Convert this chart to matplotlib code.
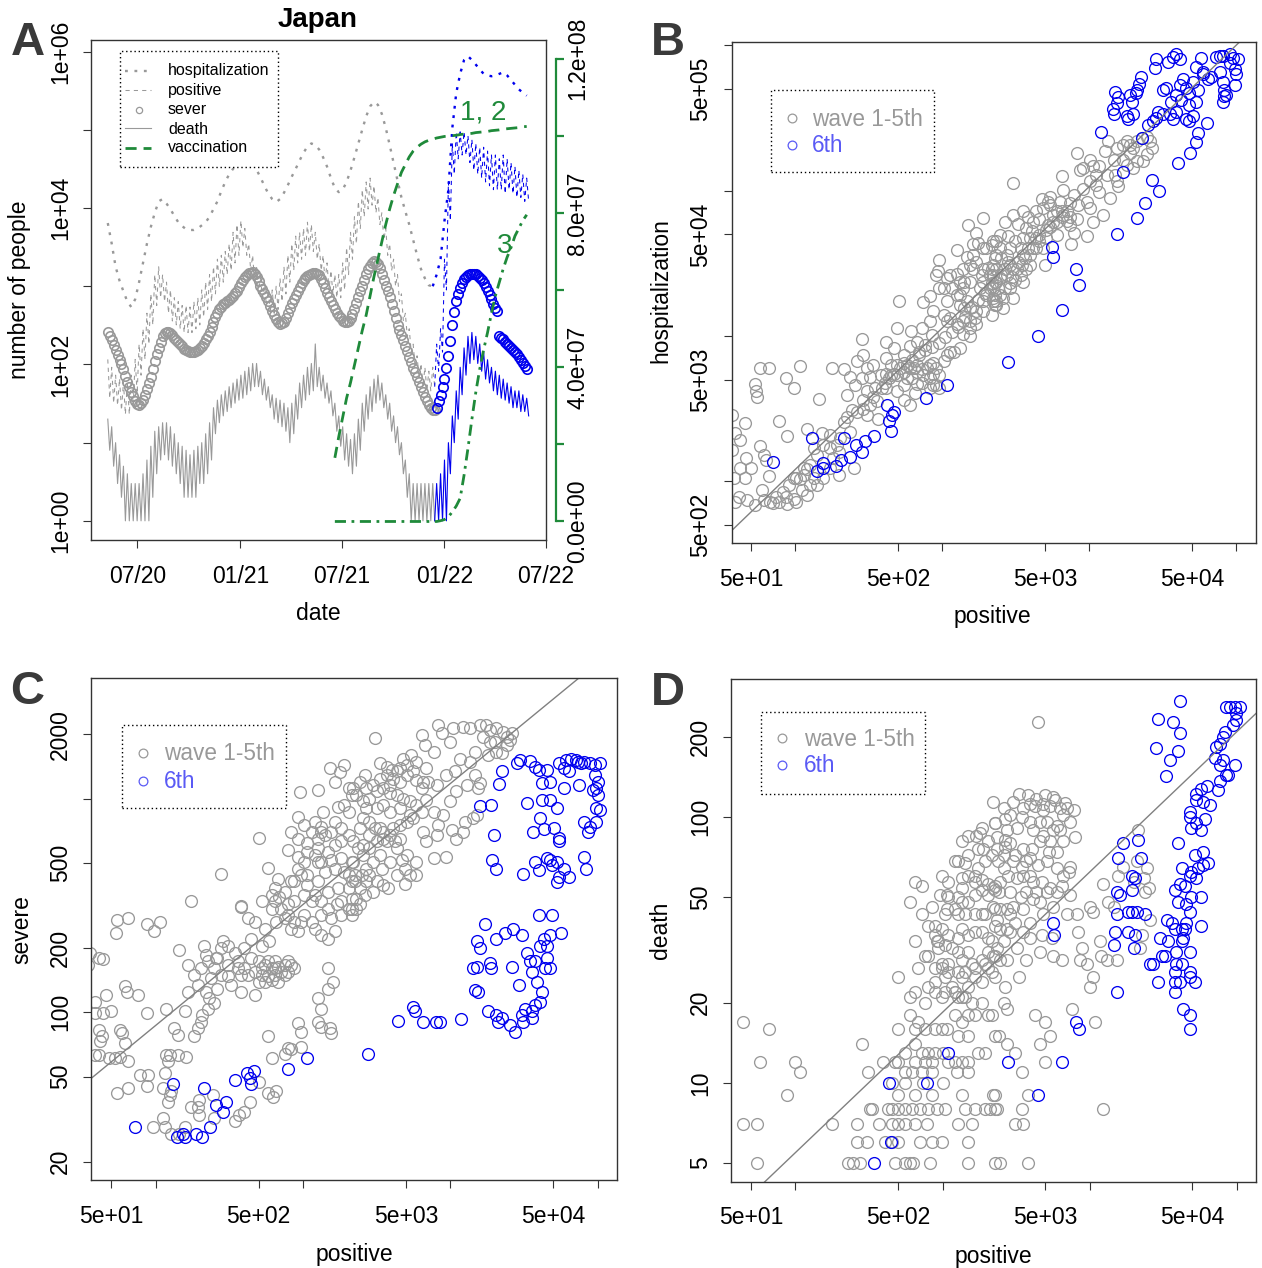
import numpy as np
import pandas as pd
import matplotlib
matplotlib.use("Agg")
import matplotlib.pyplot as plt
from matplotlib.lines import Line2D
from matplotlib.patches import Rectangle
from matplotlib.ticker import FixedLocator, FixedFormatter, NullLocator

plt.rcParams["font.family"] = ["Liberation Sans", "DejaVu Sans"]

# ------------------------------------------------------------------ data
# Panel A: weekly series for Japan, first week starting 2020-05-09
week_start = "2020-05-09"
wave6_first_week = 83          # weeks before this index belong to waves 1-5
vaccine_first_week = 58        # vaccination curves start at this week

hospitalization = [6440, 3520, 1780, 1180, 860, 637, 543, 683, 1130, 1990,
                   3500, 5750, 8700, 12200, 13060, 11420, 9710, 7930, 6600, 5880,
                   5370, 5250, 5250, 5490, 6020, 6600, 7750, 9740, 12200, 16500,
                   21600, 27100, 31800, 35600, 39000, 42600, 43600, 39000, 31000, 24700,
                   19300, 15300, 13050, 11930, 13050, 15700, 19700, 25300, 31800, 40700,
                   51100, 61300, 67100, 64200, 56000, 44600, 34000, 24200, 18000, 16000,
                   17200, 21600, 30300, 44600, 67100, 101000, 149000, 200000, 228000, 209000,
                   160000, 106000, 64200, 38000, 22600, 13700, 9100, 6160, 3920, 2500,
                   1660, 1260, 1030, 1000, 1410, 2230, 6900, 17200, 106000, 295000,
                   521000, 783000, 877000, 783000, 684000, 596000, 521000, 498000, 486000, 498000,
                   521000, 545000, 498000, 434000, 378000, 330000, 300000, 274000]

# severe cases read at the start of each week and half a week later
severe = [257, 204, 151, 115, 87, 60, 44, 34, 30, 35,
          48, 69, 110, 162, 229, 263, 251, 219, 195, 170,
          151, 145, 145, 155, 174, 209, 257, 347, 457, 550,
          617, 676, 759, 871, 1100, 1320, 1480, 1510, 1320, 1020,
          813, 646, 479, 380, 331, 347, 457, 603, 776, 977,
          1200, 1350, 1445, 1480, 1380, 1100, 813, 646, 513, 417,
          363, 347, 389, 513, 724, 1020, 1445, 1820, 2090, 1950,
          1445, 1020, 724, 479, 324, 240, 174, 126, 91, 69,
          51, 38, 30, 26, 28, 41, 65, 129, 324, 646,
          955, 1230, 1410, 1445, 1445, 1290, 1100, 871, 692, 525,
          229, 209, 182, 162, 145, 126, 105, 87]
severe_midweek = [230, 178, 132, 100, 72, 51, 39, 31, 32, 41,
                  58, 88, 135, 195, 250, 258, 235, 206, 182, 160,
                  148, 145, 150, 163, 190, 232, 300, 400, 505, 585,
                  645, 715, 810, 980, 1210, 1400, 1500, 1430, 1160, 910,
                  725, 555, 425, 352, 337, 398, 525, 685, 870, 1090,
                  1280, 1400, 1465, 1435, 1240, 950, 725, 575, 460, 388,
                  352, 365, 445, 610, 860, 1210, 1640, 1960, 2050, 1700,
                  1210, 860, 590, 395, 280, 205, 148, 107, 79, 59,
                  44, 34, 28, 26, 34, 51, 90, 200, 465, 795,
                  1090, 1330, 1435, 1450, 1370, 1200, 980, 775, 600, 480,
                  219, 195, 172, 153, 135, 115, 96]

# weekly high / low of the daily positives and deaths (weekday cycle)
positive_high = [116, 92, 73, 66, 59, 59, 73, 116, 182, 286,
                 452, 800, 1410, 1780, 1410, 1130, 898, 714, 637, 568,
                 568, 543, 637, 714, 898, 1130, 1410, 1780, 2220, 2490,
                 2790, 3500, 4900, 6170, 6910, 5500, 3500, 2490, 1780, 1410,
                 1130, 898, 898, 1000, 1260, 1780, 2490, 3500, 4380, 4900,
                 5500, 6600, 6170, 4900, 3500, 2490, 1990, 1590, 1410, 1410,
                 1990, 3130, 4900, 7750, 12200, 17200, 21600, 24200, 19300, 13700,
                 8700, 5500, 3500, 2220, 1410, 800, 452, 286, 182, 129,
                 103, 92, 82, 92, 182, 286, 2220, 21600, 67100, 94500,
                 94500, 94500, 84300, 75200, 67100, 60000, 60000, 53600, 47800, 47800,
                 42700, 47800, 42700, 38200, 34100, 30400, 27100, 24200]
positive_low = [37, 32, 30, 26, 23, 23, 30, 42, 73, 116,
                182, 321, 568, 714, 637, 452, 360, 321, 286, 256,
                256, 256, 286, 321, 404, 507, 637, 800, 1000, 1130,
                1410, 1590, 1990, 2490, 3130, 2490, 1590, 1130, 800, 637,
                568, 452, 452, 507, 637, 800, 1130, 1590, 1990, 2220,
                2490, 2790, 2790, 2220, 1590, 1130, 898, 800, 714, 714,
                898, 1410, 2220, 3500, 5500, 7750, 9740, 10900, 8700, 6170,
                3930, 2490, 1590, 1000, 637, 360, 227, 144, 92, 66,
                52, 46, 46, 52, 82, 144, 898, 6910, 27100, 42700,
                47800, 47800, 38200, 30400, 27100, 24200, 21600, 19300, 17200, 17200,
                17200, 15300, 17200, 15300, 13700, 13700, 12200, 12200]
death_high = [20, 16, 10, 7, 5, 4, 3, 3, 3, 4,
              6, 9, 14, 16, 18, 18, 16, 13, 10, 9,
              8, 7, 8, 9, 10, 13, 18, 28, 35, 41,
              46, 52, 58, 65, 73, 82, 92, 103, 103, 82,
              65, 52, 41, 37, 35, 32, 28, 32, 41, 58,
              73, 92, 103, 183, 92, 73, 58, 46, 32, 22,
              16, 13, 11, 13, 20, 32, 41, 52, 65, 73,
              58, 41, 32, 22, 16, 10, 6, 4, 3, 3,
              3, 3, 3, 3, 3, 4, 6, 10, 22, 46,
              92, 163, 229, 257, 229, 183, 145, 115, 92, 82,
              73, 65, 58, 52, 46, 46, 41, 37]
death_low = [8, 5, 3, 2, 1, 1, 1, 1, 1, 1,
             1, 2, 4, 6, 7, 6, 5, 4, 3, 2,
             2, 2, 2, 3, 3, 4, 6, 13, 18, 22,
             25, 28, 32, 35, 37, 41, 46, 52, 52, 41,
             35, 28, 20, 18, 16, 14, 10, 13, 20, 28,
             35, 41, 46, 52, 46, 37, 32, 22, 14, 9,
             6, 5, 4, 5, 8, 14, 20, 25, 32, 35,
             28, 20, 14, 10, 7, 4, 2, 1, 1, 1,
             1, 1, 1, 1, 1, 1, 1, 4, 10, 20,
             41, 73, 103, 115, 103, 82, 65, 58, 46, 41,
             37, 35, 32, 28, 28, 25, 25, 22]

vaccinated_1_2 = [16500000, 22000000, 27000000, 32000000, 36000000, 40500000, 45000000,
                  49500000, 53500000, 58500000, 63500000, 68000000, 72500000, 77000000,
                  81000000, 84500000, 87500000, 90500000, 92500000, 94500000, 96000000,
                  97000000, 97800000, 98400000, 98800000, 99100000, 99400000, 99600000,
                  99800000, 99900000, 100000000, 100100000, 100300000, 100400000, 100500000,
                  100600000, 100800000, 100900000, 101000000, 101100000, 101300000, 101400000,
                  101500000, 101700000, 101800000, 101900000, 102000000, 102100000, 102300000,
                  102400000]
vaccinated_3 = [0] * 27 + [200000, 500000, 1200000, 2500000, 4000000, 6000000, 12000000,
                           19000000, 26500000, 33500000, 39500000, 44500000, 49000000,
                           54000000, 58500000, 62000000, 65500000, 68500000, 71000000,
                           74000000, 76000000, 78000000, 79500000]

# Panel B: (positive, hospitalization)
hosp_wave1_5 = [
    (53, 4700), (54, 4150), (55, 3800), (57, 6000), (66, 6000), (86, 5150), (97, 4350), (107, 6200), (176, 6000), (213, 5900),
    (144, 3700), (224, 3900), (45, 2520), (77, 2580), (39, 2150), (87, 2050), (37, 1640), (42, 1920), (37, 2850), (57, 1740),
    (61, 1520), (63, 1410), (46, 1450), (50, 1240), (45, 1050), (38, 1050), (42, 1240), (41, 780), (39, 720), (47, 740),
    (53, 690), (61, 740), (67, 720), (77, 720), (87, 700), (86, 780), (97, 760), (59, 870), (66, 1080), (97, 1050),
    (108, 1030), (114, 1110), (110, 870), (126, 940), (133, 1050), (120, 1210), (120, 2300), (152, 2150), (133, 1700), (172, 1700),
    (192, 1780), (202, 2000), (181, 1450), (197, 1600), (197, 1110), (249, 1240), (236, 2200), (224, 2780), (262, 3000), (290, 3150),
    (322, 3350), (307, 2850), (357, 3550), (366, 2700), (256, 4600), (282, 5100), (307, 6000), (338, 6300), (290, 7400), (282, 9600),
    (307, 4150), (348, 4350), (262, 6700), (236, 5250), (322, 5250), (415, 9100), (415, 7000), (466, 8300), (490, 11300), (503, 17400),
    (444, 6300), (384, 5400), (415, 5500), (466, 5500), (544, 5650), (600, 6000), (673, 5650), (741, 5400), (571, 5100), (673, 4700),
    (646, 4050), (600, 3350), (544, 3600), (490, 4150), (779, 6000), (824, 6300), (865, 6500), (954, 5400), (1070, 7400), (1190, 7800),
    (1320, 8300), (544, 7400), (600, 8500), (673, 9100), (614, 10800), (722, 11300), (824, 12600), (865, 14800), (741, 17000), (824, 18700),
    (954, 21400), (908, 26200), (933, 28200), (954, 33400), (1020, 13900), (1070, 12600), (1130, 13300), (1250, 12000), (1390, 12600), (1540, 11300),
    (1540, 10000), (1700, 12000), (1070, 24900), (1250, 26800), (1390, 28900), (1540, 31000), (1700, 32500), (1890, 28900), (2090, 26200), (2220, 31000),
    (2330, 36200), (1250, 19200), (1390, 21400), (1540, 23600), (1800, 21400), (1990, 19200), (2220, 17400), (1320, 16400), (1540, 15600), (1890, 14800),
    (2330, 16400), (1250, 39000), (1500, 57600), (1700, 50900), (1890, 64600), (1740, 43900), (1620, 42700), (1990, 40100), (2330, 45000),
    (673, 6300), (824, 5100), (908, 6000), (1020, 6700), (1130, 7800), (1390, 10300), (1540, 12600), (1700, 14800), (1890, 17400), (2090, 21400),
    (2330, 23600), (1320, 19200), (1460, 17400), (1070, 17400), (1020, 21400), (1130, 26200), (1320, 23600), (1620, 28900), (1890, 23600), (824, 4350),
    (908, 4600), (490, 5400), (516, 6000), (571, 6300), (637, 6000), (722, 5900), (865, 5500),
    (387, 4350), (408, 4720), (430, 5100), (544, 6470), (620, 6820), (688, 7390), (763, 8000), (847, 8430), (940, 8890), (1044, 9890),
    (1158, 10700), (1285, 11580), (1429, 13560), (1585, 15890), (1759, 17660), (1951, 19630), (2166, 23000), (1158, 21240), (1391, 15480), (1668, 13220),
    (1852, 26260), (2056, 29170), (2282, 34200), (1466, 35090), (1626, 36040), (1901, 40100), (2166, 42270), (1391, 23610), (847, 10140), (763, 8650),
    (688, 7790), (490, 6310), (444, 5380), (544, 4590), (620, 5100), (722, 4720), (865, 4590), (954, 4350), (415, 4350), (338, 3820),
    (290, 3620), (241, 3090), (213, 2570), (172, 2080), (155, 1778), (141, 1516), (126, 1293), (114, 1227), (101, 1047), (91, 942),
    (82, 848), (74, 783), (70, 705), (101, 723), (120, 804), (141, 942), (155, 1047), (172, 1227),
    (2170, 13900), (2330, 17400), (2450, 19200), (2680, 21400), (2880, 23000), (3130, 24300), (3400, 26200), (3720, 28900), (3950, 31000), (3550, 23600),
    (3020, 18200), (2600, 15600), (2220, 18200), (2280, 23600), (2330, 28900), (2510, 34400), (2750, 36200), (2880, 40100), (2450, 40100), (2170, 28900),
    (2680, 61000), (3020, 68000), (3550, 72000), (3720, 55000), (4150, 61000), (4570, 64000), (4860, 76000), (5400, 80000), (6000, 72000), (6600, 68000),
    (7350, 66000), (5650, 61000), (5100, 54000), (4350, 47300), (4860, 40100), (5000, 31000), (3950, 36200), (3400, 40100), (6000, 49500), (7350, 57600),
    (7800, 51000), (7550, 42700), (8400, 80000), (3020, 112000), (4750, 87000), (5400, 91000), (6500, 126000), (6600, 101000), (8200, 181000), (8650, 138000),
    (9100, 143000), (10100, 163000), (10600, 147000), (11100, 129000), (11700, 147000), (12800, 186000), (13400, 220000), (14600, 163000), (14900, 129000), (15300, 116000),
    (15700, 107000), (13800, 89000), (12300, 68000), (10100, 76000), (10600, 61000), (9600, 48400), (15300, 196000), (17000, 206000), (17900, 220000), (18900, 206000),
    (19900, 196000), (21000, 220000), (22800, 230000), (24500, 235000), (25800, 220000), (26500, 196000), (24500, 178000), (23300, 159000), (21000, 159000), (19900, 143000),
    (17900, 150000), (17000, 163000), (18900, 181000),
    (2220, 26200), (2390, 21400), (2750, 26200), (3020, 28900), (3290, 32500), (3550, 36200), (3840, 40100), (4350, 40100), (4570, 49500), (5260, 57600),
    (5650, 68000), (6500, 72000), (7000, 62000), (3950, 47300), (2880, 31000), (2510, 26200), (2220, 21400), (2880, 21400), (2600, 18200), (2280, 16400),
    (2280, 19200), (2450, 24900), (2680, 28900), (2800, 32500), (2960, 25500), (3210, 28900), (3470, 31000), (3650, 34400), (4150, 40100), (4570, 45000),
    (5100, 47300), (5400, 55800), (6000, 61000), (6500, 66000), (7000, 72000), (4060, 52500), (3550, 47300), (3130, 45000), (2800, 48400), (2450, 49500),
    (2220, 45000), (3290, 59000), (3840, 66000), (4350, 72000), (5260, 84000), (6300, 84000), (7800, 93000), (9100, 103000), (10100, 116000), (11100, 110000),
    (13100, 129000), (11700, 98000), (9600, 84000), (7350, 82000), (8200, 64000)]
hosp_wave6 = [
    (70, 1360), (130, 2000), (139, 1180), (155, 1330), (155, 1240), (189, 1270), (213, 2000), (205, 1390), (234, 1480), (259, 1770),
    (282, 1600), (299, 1900), (341, 2060), (422, 3350), (455, 2850), (466, 3000), (433, 2580), (444, 2220), (770, 3750), (1070, 4600),
    (2800, 6630), (4470, 9980), (6500, 15200), (8500, 22300), (8100, 28900), (5650, 34800), (5600, 41000), (15300, 50500), (21000, 65000), (23900, 82000),
    (26800, 118000), (29600, 100000), (17000, 134000), (12000, 255000), (22800, 230000), (25200, 285000), (40000, 156000), (48400, 182000), (53200, 215000), (55100, 250000),
    (63000, 290000), (14900, 475000), (15700, 440000), (14400, 365000), (14700, 335000), (15300, 400000), (17900, 325000), (18400, 310000), (19900, 335000), (18900, 455000),
    (19400, 410000), (21000, 490000), (21900, 540000), (22400, 610000), (20700, 470000), (28600, 810000), (27900, 700000), (34300, 770000), (37100, 830000), (39000, 871000),
    (41100, 800000), (57500, 820000), (53200, 710000), (59300, 630000), (31700, 490000), (33400, 510000), (36100, 410000), (39000, 455000), (41100, 530000), (43300, 590000),
    (45600, 510000), (47900, 470000), (50500, 560000), (53200, 410000), (54600, 490000), (59300, 660000), (63900, 590000), (47900, 390000), (39000, 350000), (35200, 335000),
    (31700, 335000), (28600, 318000), (27200, 300000), (29400, 350000), (45600, 310000), (47900, 300000), (50500, 325000), (42200, 420000), (37100, 310000), (72900, 830000),
    (76800, 851000), (80900, 850000), (89800, 871000), (94600, 820000), (102000, 810000), (97100, 690000), (99600, 630000), (97100, 530000), (80900, 560000), (76800, 660000),
    (83000, 490000), (83000, 445000), (80900, 410000), (85200, 455000), (67300, 610000), (89800, 750000)]

# Panel C: (positive, severe)
severe_wave1_5 = [
    (1520, 1390), (1910, 1440), (1780, 1330), (1660, 1190), (1260, 1100), (950, 1070), (2040, 1120), (2140, 1040), (1910, 930), (1740, 910),
    (2040, 870), (930, 820), (1200, 780), (1370, 870), (1660, 780), (1320, 740), (1320, 700), (1550, 700), (1820, 725), (830, 700),
    (930, 650), (1070, 620), (1260, 585), (1480, 565), (1660, 605), (795, 575), (930, 535), (1020, 505), (1200, 545), (1320, 505),
    (1550, 515), (1820, 525), (2140, 505), (2040, 440), (2240, 410), (500, 655), (575, 475), (675, 420), (645, 380), (870, 410),
    (975, 440), (1070, 395), (1200, 355), (1320, 330), (1480, 305), (1700, 320), (1820, 330), (2140, 340), (1020, 355), (1150, 330),
    (870, 330), (795, 320), (690, 345), (615, 355), (525, 330), (615, 305), (660, 265), (755, 275), (830, 245), (930, 240),
    (975, 265), (1200, 245), (1320, 230), (1480, 220), (1660, 240), (2140, 305), (380, 310), (425, 275), (470, 265), (550, 245),
    (590, 215), (525, 205), (445, 220), (400, 200), (360, 173), (310, 205), (280, 200), (288, 215), (345, 190), (227, 173),
    (214, 205), (263, 180), (310, 166), (280, 150), (310, 147), (400, 161), (445, 180), (500, 173), (550, 166), (615, 161),
    (675, 163), (755, 166), (830, 166), (870, 161), (470, 155), (525, 150), (575, 147), (645, 150), (705, 155), (795, 155),
    (550, 139), (615, 141), (425, 150), (1480, 161), (1600, 139), (1480, 129), (1260, 116), (1320, 104), (1260, 90), (1320, 85),
    (1520, 84), (1550, 80), (930, 89), (975, 81), (575, 77), (795, 68), (830, 67), (975, 69), (755, 64), (615, 61),
    (575, 42), (630, 40), (660, 43), (435, 38), (400, 34), (370, 33), (345, 31), (251, 32), (244, 41), (198, 39),
    (193, 36), (198, 33), (173, 36), (125, 41), (128, 43), (121, 38), (112, 44), (115, 52), (89, 51), (87, 45),
    (78, 51), (55, 42), (65, 44), (112, 32), (96, 29), (115, 29), (128, 27), (500, 47), (220, 125), (232, 116),
    (251, 110), (227, 104), (208, 97), (203, 90), (193, 84), (183, 77), (158, 101), (134, 84), (141, 78), (118, 63),
    (125, 63), (141, 63), (162, 62), (121, 59), (53, 61), (57, 62), (65, 59), (48, 61), (41, 63), (145, 195),
    (173, 330), (220, 185), (257, 180), (280, 445), (380, 315), (36, 190), (41, 180), (44, 178), (35, 166), (39, 112),
    (46, 120), (62, 132), (64, 125), (76, 120), (39, 99), (44, 99), (50, 101), (41, 83), (42, 73), (43, 77),
    (57, 83), (59, 80), (62, 72), (39, 63), (55, 270), (54, 235), (65, 275), (87, 260), (98, 240), (107, 265),
    (87, 99), (118, 104), (158, 29), (145, 27),
    (1020, 750), (1150, 700), (1260, 650), (1410, 675), (1820, 630), (2040, 675), (1070, 565), (1260, 505), (1410, 455), (1660, 470),
    (1910, 455), (2140, 410), (930, 470), (830, 410), (755, 365), (645, 330), (705, 305), (795, 285), (870, 265), (1020, 285),
    (1150, 265), (1320, 285), (1550, 275), (1820, 285), (2040, 305), (1480, 365), (1740, 380), (2040, 380), (1260, 410), (1070, 440),
    (575, 173), (645, 173), (795, 173), (525, 161), (645, 161), (755, 150), (500, 139), (675, 139), (380, 150), (360, 161),
    (251, 161), (238, 144), (203, 161), (183, 150), (165, 166), (193, 134), (165, 125), (263, 129), (325, 134), (380, 125),
    (470, 120),
    (3100, 1920), (6400, 1990), (6700, 1780), (8300, 2210), (8750, 2030), (10500, 2130), (12200, 2170), (13600, 2130), (15900, 2210), (17600, 2210),
    (18500, 2100), (20600, 2130), (22900, 2060), (24100, 1950), (25400, 1890), (26100, 2030), (16700, 1950), (20100, 1850), (24100, 1780), (14700, 1660),
    (18000, 1600), (22300, 1630), (3330, 1470), (3700, 1410), (4000, 1360), (5450, 1600), (4800, 1540), (4330, 1340), (4110, 1240), (2630, 1290),
    (2190, 1120), (2300, 1040), (2830, 1000), (3170, 1080), (3520, 1120), (3900, 1160), (4560, 1200), (5050, 1290), (5600, 1340), (5900, 1220),
    (6550, 1200), (7100, 1200), (6400, 1120), (6900, 990), (7700, 870), (8300, 750), (3900, 1060), (4330, 1040), (4800, 1000), (5320, 970),
    (5900, 930), (6400, 870), (5600, 810), (5050, 780), (4560, 750), (4110, 725), (3520, 700), (3100, 725), (2830, 780), (2570, 810),
    (3170, 900), (2700, 900), (2190, 630), (2370, 585), (2570, 545), (2830, 585), (3170, 630), (3520, 650), (3900, 675), (4220, 630),
    (4560, 650), (3330, 545), (3010, 505), (2700, 470), (2240, 440), (2500, 440), (2830, 440), (3170, 410), (3520, 395), (3800, 380),
    (3420, 470), (3900, 505), (4680, 515), (4930, 470), (5320, 440), (4930, 400), (2300, 340), (2430, 320), (2300, 305), (2140, 285),
    (7700, 525), (9400, 535), (10200, 710), (11000, 650), (12200, 700), (12500, 780), (14300, 810), (15100, 840), (15400, 1120), (15900, 1180),
    (14700, 1290), (10800, 1340),
    (2430, 1200), (2700, 1120), (3010, 1160), (3330, 1240), (3700, 1290), (4560, 1390), (5050, 1440), (5900, 1490), (6900, 1390), (2570, 970),
    (3520, 930), (3900, 870), (4560, 900), (5320, 840), (2430, 725), (2830, 675), (3330, 725), (3700, 630), (4330, 585), (5050, 545),
    (5900, 505), (2570, 605), (2190, 505), (2430, 380), (2700, 410), (3010, 365), (2630, 355), (4330, 440), (5900, 440), (6900, 630),
    (6550, 700), (8100, 675), (8950, 840), (9950, 970), (11000, 1080), (12900, 1160), (8100, 1160), (9400, 1290), (11600, 1540), (13600, 1490),
    (20600, 1660), (18500, 1850), (9950, 1850), (7700, 1660)]
severe_wave6 = [
    (72, 29), (131, 46), (139, 26), (154, 27), (158, 26), (189, 27), (208, 26), (234, 29), (212, 44), (257, 37),
    (288, 34), (302, 38), (345, 48), (420, 52), (440, 49), (465, 53), (445, 46), (790, 54), (1070, 61),
    (22300, 1350), (21500, 1170), (15900, 925), (19000, 930), (19700, 675), (19300, 515), (20400, 470), (28200, 1470), (29700, 1510), (34800, 1500),
    (37700, 1410), (39800, 1360), (45400, 1360), (54700, 1470), (60900, 1510), (65900, 1540), (71400, 1510), (73300, 1490), (77300, 1470), (81500, 1490),
    (88300, 1470), (95600, 1440), (103500, 1470), (59300, 1390), (64200, 1340), (47900, 1200), (41900, 1180), (59300, 1120), (75300, 1160), (95600, 1290),
    (100800, 1200), (98200, 1120), (93100, 1100), (100800, 1040), (98200, 900), (103500, 885), (81500, 780), (88300, 740), (98200, 780), (86000, 700),
    (53300, 900), (47900, 990), (41900, 980), (40800, 810), (33000, 955), (36700, 700), (43100, 720), (50500, 725), (54700, 655), (54700, 630),
    (31300, 445), (37700, 505), (39800, 465), (45400, 525), (47900, 515), (49200, 490), (53300, 505), (59300, 470), (64200, 430), (54700, 430),
    (53300, 405), (81500, 535), (83700, 470),
    (17200, 260), (15100, 215), (15900, 200), (14300, 161), (15100, 163), (18500, 170), (19000, 161), (20600, 220), (23500, 235), (26800, 245),
    (30500, 230), (33000, 190), (34800, 173), (37700, 173), (35700, 155), (38700, 139), (41900, 125), (40800, 112), (37700, 108), (35700, 101),
    (32200, 104), (30500, 97), (31300, 90), (35700, 94), (27500, 81), (25400, 87), (22300, 94), (21200, 90), (20600, 97), (18000, 101),
    (14700, 127), (15400, 125), (26100, 163), (29400, 134), (39800, 285), (49200, 285), (56200, 235), (47900, 230), (43100, 220), (40800, 205),
    (45400, 205), (47900, 161), (44200, 161), (45400, 180),
    (4440, 91), (5600, 106), (5750, 101), (6500, 90), (8000, 90), (8500, 90), (11900, 93), (2760, 64)]

# Panel D: (positive, death)
death_wave1_5 = [
    (44, 17), (66, 16), (57, 12), (100, 12), (108, 11), (88, 9), (44, 7), (55, 7), (55, 5), (177, 7),
    (261, 7), (283, 14), (313, 11), (321, 8), (396, 12), (475, 12), (501, 12), (501, 16), (601, 21), (601, 18),
    (685, 17), (650, 16), (501, 25), (685, 27), (601, 48), (650, 57), (721, 55), (800, 39), (800, 30), (889, 36),
    (912, 34), (935, 32), (986, 27), (1040, 25), (1153, 23), (1280, 21), (1350, 21), (1420, 21), (1578, 20), (1845, 20),
    (2048, 18), (1215, 18), (1350, 17), (1498, 18), (1663, 18), (1066, 16), (1280, 15), (1498, 15), (1751, 13), (1944, 13),
    (2271, 15), (760, 16), (889, 16), (986, 16), (650, 14), (721, 13), (800, 13), (889, 13), (1012, 13), (1095, 12),
    (1215, 12), (1350, 12), (1498, 12), (556, 13), (650, 12), (760, 12), (843, 12),
    (556, 11), (616, 11), (721, 11), (843, 11), (1248, 11), (1498, 11),
    (452, 10), (501, 9), (556, 10), (650, 9), (741, 10), (843, 9), (1012, 10), (1350, 9), (2271, 9),
    (330, 8), (424, 8), (452, 8), (501, 8), (556, 8), (616, 8), (703, 8), (800, 8), (912, 8), (1040, 8),
    (1422, 8), (1663, 8), (1944, 8), (2271, 8),
    (372, 7), (452, 7), (501, 7), (556, 7), (650, 7), (780, 7), (1280, 7), (1578, 7),
    (261, 6), (305, 6), (407, 6), (452, 6), (501, 6), (703, 6), (843, 6), (986, 6), (1498, 6),
    (229, 5), (248, 5), (275, 5), (475, 5), (556, 5), (601, 5), (628, 5), (822, 5), (1498, 5), (2271, 5),
    (2271, 95), (1700, 85), (1800, 87), (1895, 76), (1280, 68), (1420, 67), (1751, 64), (1498, 60), (1350, 59), (1663, 57),
    (1845, 58), (2048, 56), (2271, 55), (961, 51), (1066, 51), (1095, 50), (1280, 50), (1350, 48), (1498, 48), (1663, 51),
    (1845, 53), (2048, 51), (2271, 53), (1066, 45), (1215, 45), (1280, 43), (1422, 43), (1663, 43), (1944, 43), (2271, 45),
    (889, 39), (986, 38), (1095, 36), (1280, 35), (1498, 36), (1663, 37), (1845, 37), (2048, 35), (2271, 39), (935, 34),
    (1040, 33), (1153, 32), (1280, 31), (1498, 31), (1350, 29), (1578, 28), (1845, 29), (2048, 31), (2271, 30), (986, 28),
    (1095, 26), (1280, 26), (1422, 26), (1663, 25), (1845, 24), (2048, 27), (2271, 25), (800, 23), (889, 22), (1040, 22),
    (1215, 22),
    (986, 60), (1095, 57), (1350, 54), (1663, 60), (1944, 68), (2158, 72), (1215, 68), (1498, 72), (1751, 76), (2048, 81),
    (1040, 43), (1350, 38), (1845, 43), (843, 46), (721, 43), (650, 34), (760, 30), (889, 27), (1095, 28), (1350, 25),
    (1663, 27), (1944, 28), (2158, 34), (1215, 22), (1498, 23), (889, 24), (986, 21), (650, 22), (760, 20), (1498, 85),
    (1845, 91), (1350, 81),
    (4470, 228), (3290, 122), (3840, 121), (5000, 121), (5650, 119), (5800, 116), (6820, 113), (7800, 106), (7000, 108), (6300, 108),
    (5400, 110), (4860, 106), (4250, 110), (3950, 112), (3550, 108), (2880, 102), (2680, 98), (2280, 95), (3470, 100), (3950, 96),
    (4570, 96), (5100, 96), (6000, 92), (6300, 89), (5650, 89), (4860, 85), (4150, 89), (7980, 84), (2330, 84), (2680, 82),
    (2680, 77), (2600, 72), (3130, 72), (3550, 76), (4060, 76), (5260, 74), (6000, 74), (3950, 70), (4470, 66), (3470, 65),
    (2600, 64), (2450, 57), (2800, 60), (3210, 59), (3550, 60), (4150, 57), (4750, 57), (5400, 54), (6500, 55), (7350, 65),
    (7200, 62), (5100, 52), (2220, 54), (2410, 52), (2880, 52), (3400, 50), (3720, 52), (4150, 49), (4570, 48), (5650, 46),
    (2220, 46), (2450, 45), (2750, 45), (3020, 46), (3550, 45), (7020, 43), (8200, 43), (10100, 46), (10600, 44), (2450, 38),
    (2750, 38), (3130, 40), (3550, 37), (2880, 37), (2600, 34), (2330, 32), (2220, 30), (2450, 29), (2170, 26), (4750, 36),
    (5540, 35), (8400, 37), (6500, 29), (8870, 32), (8650, 29), (9600, 28), (10600, 25), (10100, 23), (11700, 34), (12000, 30),
    (13100, 29), (15300, 29), (12300, 56), (13400, 48), (14600, 46), (15700, 60), (17000, 65), (21000, 68), (24500, 64), (19900, 57),
    (23900, 52), (25200, 54), (23300, 59), (21500, 89), (22800, 36), (22100, 32), (25800, 41), (2680, 23), (3290, 25), (2600, 20),
    (2750, 19), (2170, 18), (2410, 15), (2750, 14), (3130, 13), (4250, 18), (5000, 17), (5400, 15), (4570, 14), (5000, 12),
    (3470, 11), (2220, 9), (2110, 8), (2330, 8), (3840, 9), (3470, 8), (3130, 7), (3550, 7), (12300, 8), (10900, 17),
    (7550, 19), (2450, 5), (3840, 5),
    (2220, 114), (2600, 108), (3020, 114), (4350, 117), (4860, 112), (6600, 102), (7350, 96), (3210, 91), (2750, 89), (2330, 76),
    (2880, 80), (4570, 81), (5400, 81), (6600, 81), (3720, 68), (5100, 68), (6000, 64), (6600, 60), (2390, 68), (3020, 68),
    (3950, 60), (4350, 52), (6000, 52), (7350, 51), (2330, 41), (2880, 43), (3950, 40), (4860, 43), (3950, 35), (3210, 32),
    (2750, 29), (4570, 31), (5650, 30), (3720, 29)]
death_wave6 = [
    (41100, 272), (29400, 233), (37100, 228), (41100, 207), (28400, 181), (35200, 163), (40000, 177), (33200, 142), (85200, 258), (89800, 258),
    (97100, 258), (105000, 258), (99600, 245), (98500, 231), (94600, 221), (83000, 209), (80900, 199), (76800, 188), (72900, 183), (71300, 167),
    (80900, 163), (97100, 157), (76800, 156), (85200, 144), (87500, 144), (76800, 136), (74800, 126), (62600, 131), (56900, 127), (53200, 122),
    (53200, 116), (59300, 114), (66200, 111), (47900, 104), (47900, 100), (53200, 95), (61100, 98), (49200, 91), (56900, 89), (40000, 80),
    (51900, 72), (59300, 74), (63900, 67), (59300, 66), (54600, 64), (49200, 62), (47900, 60), (53200, 59), (42200, 64), (41100, 56),
    (38200, 53), (44500, 55), (40000, 48), (45600, 47), (49200, 50), (56900, 50), (47900, 44), (33400, 41), (36100, 40), (38200, 38),
    (42200, 38), (45600, 40), (43300, 35), (44500, 38), (56900, 39), (30100, 35), (34300, 34), (42200, 34), (39000, 31), (47900, 31),
    (31000, 30), (32500, 30), (25800, 28), (27200, 28), (39000, 28), (42200, 28), (38200, 26), (47900, 26), (29400, 24), (38200, 24),
    (41100, 24), (47900, 25), (51900, 24), (38200, 22), (43300, 19), (47900, 18), (47900, 16), (17000, 80), (21500, 82), (22400, 70),
    (15700, 70), (19400, 60), (20500, 59), (15300, 52), (16100, 51), (19400, 53), (15300, 43), (18400, 44), (19400, 44), (21000, 44),
    (23900, 43), (14900, 37), (18400, 37), (20500, 36), (14600, 33), (19900, 32), (15400, 22), (5650, 40), (5700, 36), (8100, 17),
    (8500, 16), (2800, 12), (6500, 12), (4470, 9), (433, 10), (788, 10), (444, 6), (343, 5), (1095, 13)]

# fitted lines: log10(y) = a + b * log10(positive)
fit_hospitalization = [1.137, 0.973]
fit_severe = [0.806, 0.566]
fit_death = [-0.316, 0.527]

# ------------------------------------------------------------------ style
GRAY = "#999999"
BLUE = "#0000ee"
LEG_BLUE = "#5a5af5"
GREEN = "#1f8a3a"
FRAME = "#333333"
FS = 16.5

W, H = 1262, 1268
fig = plt.figure(figsize=(W / 100, H / 100), dpi=100)
fig.patch.set_facecolor("white")


def add_ax(l, t, r, b):
    return fig.add_axes([l / W, 1 - b / H, (r - l) / W, (b - t) / H])


def fx(x):
    return x / W


def fy(y):
    return 1 - y / H


def style_axes(ax, xpad=12.0, ypad=8.0):
    ax.tick_params(axis="both", which="both", direction="out", length=5.8, width=0.8,
                   color=FRAME, labelsize=FS, labelcolor="black")
    ax.tick_params(axis="x", pad=xpad)
    ax.tick_params(axis="y", pad=ypad, labelrotation=90)
    for sp in ax.spines.values():
        sp.set_linewidth(1.0)
        sp.set_color(FRAME)


def set_ticks(axis, ticks, labels):
    axis.set_major_locator(FixedLocator(ticks))
    axis.set_major_formatter(FixedFormatter(labels))
    axis.set_minor_locator(NullLocator())


def legend_box(x0, y0, x1, y1):
    fig.add_artist(Rectangle((fx(x0), fy(y1)), (x1 - x0) / W, (y1 - y0) / H,
                             transform=fig.transFigure, facecolor="white", edgecolor="black",
                             lw=1.0, ls=(0, (1, 2)), zorder=10))


# ------------------------------------------------------------------ panel A
axA = add_ax(91, 40, 546, 540)
weeks = pd.date_range(week_start, periods=len(hospitalization), freq="7D")
mid_weeks = weeks + pd.Timedelta(hours=84)
t_pair = np.column_stack([weeks.values, mid_weeks.values]).ravel()
pos_pair = np.column_stack([positive_high, positive_low]).ravel()
death_pair = np.column_stack([death_high, death_low]).ravel()
hosp = np.array(hospitalization)
sev = np.array(severe)
sev_mid = np.array(severe_midweek)
mids = mid_weeks[:len(sev_mid)]
s = wave6_first_week

axA.plot(weeks[:s + 1], hosp[:s + 1], color=GRAY, lw=1.7, dashes=(1.2, 2.8))
axA.plot(weeks[s:], hosp[s:], color=BLUE, lw=1.7, dashes=(1.2, 2.8))
axA.plot(t_pair[:2 * s + 2], pos_pair[:2 * s + 2], color=GRAY, lw=0.75, dashes=(4, 4))
axA.plot(t_pair[2 * s + 1:], pos_pair[2 * s + 1:], color=BLUE, lw=0.75, dashes=(4, 4))
mk = dict(ls="none", marker="o", ms=6.8, mfc="none", mew=1.2)
axA.plot(weeks[:s + 1], sev[:s + 1], mec=GRAY, **mk)
axA.plot(mids[:s + 1], sev_mid[:s + 1], mec=GRAY, **mk)
axA.plot(weeks[s + 1:], sev[s + 1:], mec=BLUE, **mk)
axA.plot(mids[s + 1:], sev_mid[s + 1:], mec=BLUE, **mk)
axA.plot(t_pair[:2 * s + 2], death_pair[:2 * s + 2], color=GRAY, lw=0.8)
axA.plot(t_pair[2 * s + 1:], death_pair[2 * s + 1:], color=BLUE, lw=0.8)

axA.set_yscale("log")
set_ticks(axA.yaxis, [1, 10, 100, 1e3, 1e4, 1e5, 1e6],
          ["1e+00", "", "1e+02", "", "1e+04", "", "1e+06"])
xt = pd.to_datetime(["2020-07-01", "2021-01-01", "2021-07-01", "2022-01-01", "2022-07-01"])
axA.set_xticks(xt)
axA.set_xticklabels(["07/20", "01/21", "07/21", "01/22", "07/22"])
axA.xaxis.set_minor_locator(NullLocator())
style_axes(axA)

axV = axA.twinx()
vweeks = weeks[vaccine_first_week:]
axV.plot(vweeks, vaccinated_1_2, color=GREEN, lw=2.0, dashes=(4, 2.5))
axV.plot(vweeks, vaccinated_3, color=GREEN, lw=2.0, dashes=(4, 2, 1, 2))
for side in ["left", "top", "bottom"]:
    axV.spines[side].set_visible(False)
axV.spines["right"].set_position(("outward", 7.2))
axV.spines["right"].set_bounds(0, 1.2e8)
axV.spines["right"].set_color(GREEN)
axV.spines["right"].set_linewidth(1.6)
set_ticks(axV.yaxis, [0, 2e7, 4e7, 6e7, 8e7, 1e8, 1.2e8],
          ["0.0e+00", "", "4.0e+07", "", "8.0e+07", "", "1.2e+08"])
axV.tick_params(axis="y", direction="out", length=5.8, width=1.6, color=GREEN,
                labelcolor="black", labelsize=FS, labelrotation=90, pad=1.5)
axV.set_ylim(-0.048e8, 1.248e8)
axV.text(pd.Timestamp("2022-03-11"), 1.059e8, "1, 2", color=GREEN, fontsize=20,
         ha="center", va="center")
axV.text(pd.Timestamp("2022-04-18"), 7.14e7, "3", color=GREEN, fontsize=20,
         ha="center", va="center")

axA.set_xlim(pd.Timestamp("2020-04-09"), pd.Timestamp("2022-07-01 12:00"))
axA.set_ylim(10 ** -0.245, 10 ** 6.15)

# legend A
legend_box(120, 51, 278, 167)
rowsA = [71, 91, 110, 129, 148]
namesA = ["hospitalization", "positive", "sever", "death", "vaccination"]
hx0, hx1 = 125, 151
fig.add_artist(Line2D([fx(hx0), fx(hx1)], [fy(70.5)] * 2, transform=fig.transFigure,
                      color=GRAY, lw=1.7, dashes=(1.2, 2.8), zorder=11))
fig.add_artist(Line2D([fx(hx0), fx(hx1)], [fy(90)] * 2, transform=fig.transFigure,
                      color=GRAY, lw=0.75, dashes=(4, 4), zorder=11))
fig.add_artist(Line2D([fx(139)], [fy(109.5)], transform=fig.transFigure, ls="none",
                      marker="o", ms=4.5, mfc="none", mec=GRAY, mew=0.9, zorder=11))
fig.add_artist(Line2D([fx(hx0), fx(hx1)], [fy(128)] * 2, transform=fig.transFigure,
                      color=GRAY, lw=0.8, zorder=11))
fig.add_artist(Line2D([fx(hx0), fx(hx1)], [fy(148)] * 2, transform=fig.transFigure,
                      color=GREEN, lw=2.0, dashes=(4, 2.5), zorder=11))
for yy, name in zip(rowsA, namesA):
    fig.text(fx(168), fy(yy), name, fontsize=11.5, ha="left", va="center", zorder=12)

# ------------------------------------------------------------------ scatter panels
xt_pos = [50, 100, 500, 1000, 5000, 1e4, 5e4, 1e5]
xl_pos = ["5e+01", "", "5e+02", "", "5e+03", "", "5e+04", ""]


def scatter_panel(box, gray_pts, blue_pts, fit, xlim, ylim, yticks, ylabels):
    ax = add_ax(*box)
    ax.set_xscale("log")
    ax.set_yscale("log")
    g = np.array(gray_pts, dtype=float)
    b = np.array(blue_pts, dtype=float)
    ax.plot(g[:, 0], g[:, 1], "o", ms=8.5, mfc="none", mec=GRAY, mew=0.95)
    ax.plot(b[:, 0], b[:, 1], "o", ms=8.5, mfc="none", mec=BLUE, mew=0.95)
    xs = np.array(xlim, dtype=float)
    ax.plot(xs, 10 ** (fit[0] + fit[1] * np.log10(xs)), color="#808080", lw=1.0)
    set_ticks(ax.xaxis, xt_pos, xl_pos)
    set_ticks(ax.yaxis, yticks, ylabels)
    ax.set_xlim(*xlim)
    ax.set_ylim(*ylim)
    style_axes(ax)
    return ax


def wave_legend(x0, y0, x1, y1, mx, tx, r1, r2):
    legend_box(x0, y0, x1, y1)
    fig.add_artist(Line2D([fx(mx)], [fy(r1)], transform=fig.transFigure, ls="none", marker="o",
                          ms=6.3, mfc="none", mec=GRAY, mew=0.9, zorder=11))
    fig.add_artist(Line2D([fx(mx)], [fy(r2)], transform=fig.transFigure, ls="none", marker="o",
                          ms=6.3, mfc="none", mec=LEG_BLUE, mew=0.9, zorder=11))
    fig.text(fx(tx), fy(r1 + 1), "wave 1-5th", color=GRAY, fontsize=16.3, ha="left",
             va="center", zorder=12)
    fig.text(fx(tx), fy(r2 + 1), "6th", color=LEG_BLUE, fontsize=16.3, ha="left",
             va="center", zorder=12)


axB = scatter_panel((731.5, 42, 1255.5, 543), hosp_wave1_5, hosp_wave6, fit_hospitalization,
                    (36.7, 134900), (376, 1054000),
                    [500, 1000, 5000, 1e4, 5e4, 1e5, 5e5, 1e6],
                    ["5e+02", "", "5e+03", "", "5e+04", "", "5e+05", ""])
wave_legend(771, 90, 934, 172, 792, 812, 118, 145)

axC = scatter_panel((91.3, 678.3, 616.7, 1180), severe_wave1_5, severe_wave6, fit_severe,
                    (36.6, 134900), (16.4, 3656),
                    [20, 50, 100, 200, 500, 1000, 2000],
                    ["20", "50", "100", "200", "500", "", "2000"])
wave_legend(122, 725, 286, 808, 143, 164, 753, 781)

axD = scatter_panel((731.3, 679, 1256, 1181.7), death_wave1_5, death_wave6, fit_death,
                    (36.6, 135500), (4.25, 329.6),
                    [5, 10, 20, 50, 100, 200],
                    ["5", "10", "20", "50", "100", "200"])
wave_legend(761, 712, 925, 794, 782, 804, 738, 765)

# ------------------------------------------------------------------ texts
fig.text(fx(318), fy(27), "Japan", fontsize=20, fontweight="bold", ha="center", va="baseline")
fig.text(fx(318), fy(614), "date", fontsize=FS, ha="center", va="center")
fig.text(fx(20), fy(290), "number of people", fontsize=FS, rotation=90, ha="center", va="center")
fig.text(fx(992), fy(617), "positive", fontsize=FS, ha="center", va="center")
fig.text(fx(661), fy(291), "hospitalization", fontsize=FS, rotation=90, ha="center", va="center")
fig.text(fx(354), fy(1254), "positive", fontsize=FS, ha="center", va="center")
fig.text(fx(22), fy(930), "severe", fontsize=FS, rotation=90, ha="center", va="center")
fig.text(fx(993), fy(1256), "positive", fontsize=FS, ha="center", va="center")
fig.text(fx(660), fy(930), "death", fontsize=FS, rotation=90, ha="center", va="center")

for letter, x, y in [("A", 27.5, 55), ("B", 667.5, 55), ("C", 27, 704), ("D", 668, 705)]:
    fig.text(fx(x), fy(y), letter, fontsize=34, fontweight="bold", color="#3a3a3a",
             ha="center", va="baseline")

for ax in [axA, axB, axC, axD, axV]:
    plt.setp(ax.get_yticklabels(), va="center")

fig.savefig("out.png", dpi=100, facecolor="white")
